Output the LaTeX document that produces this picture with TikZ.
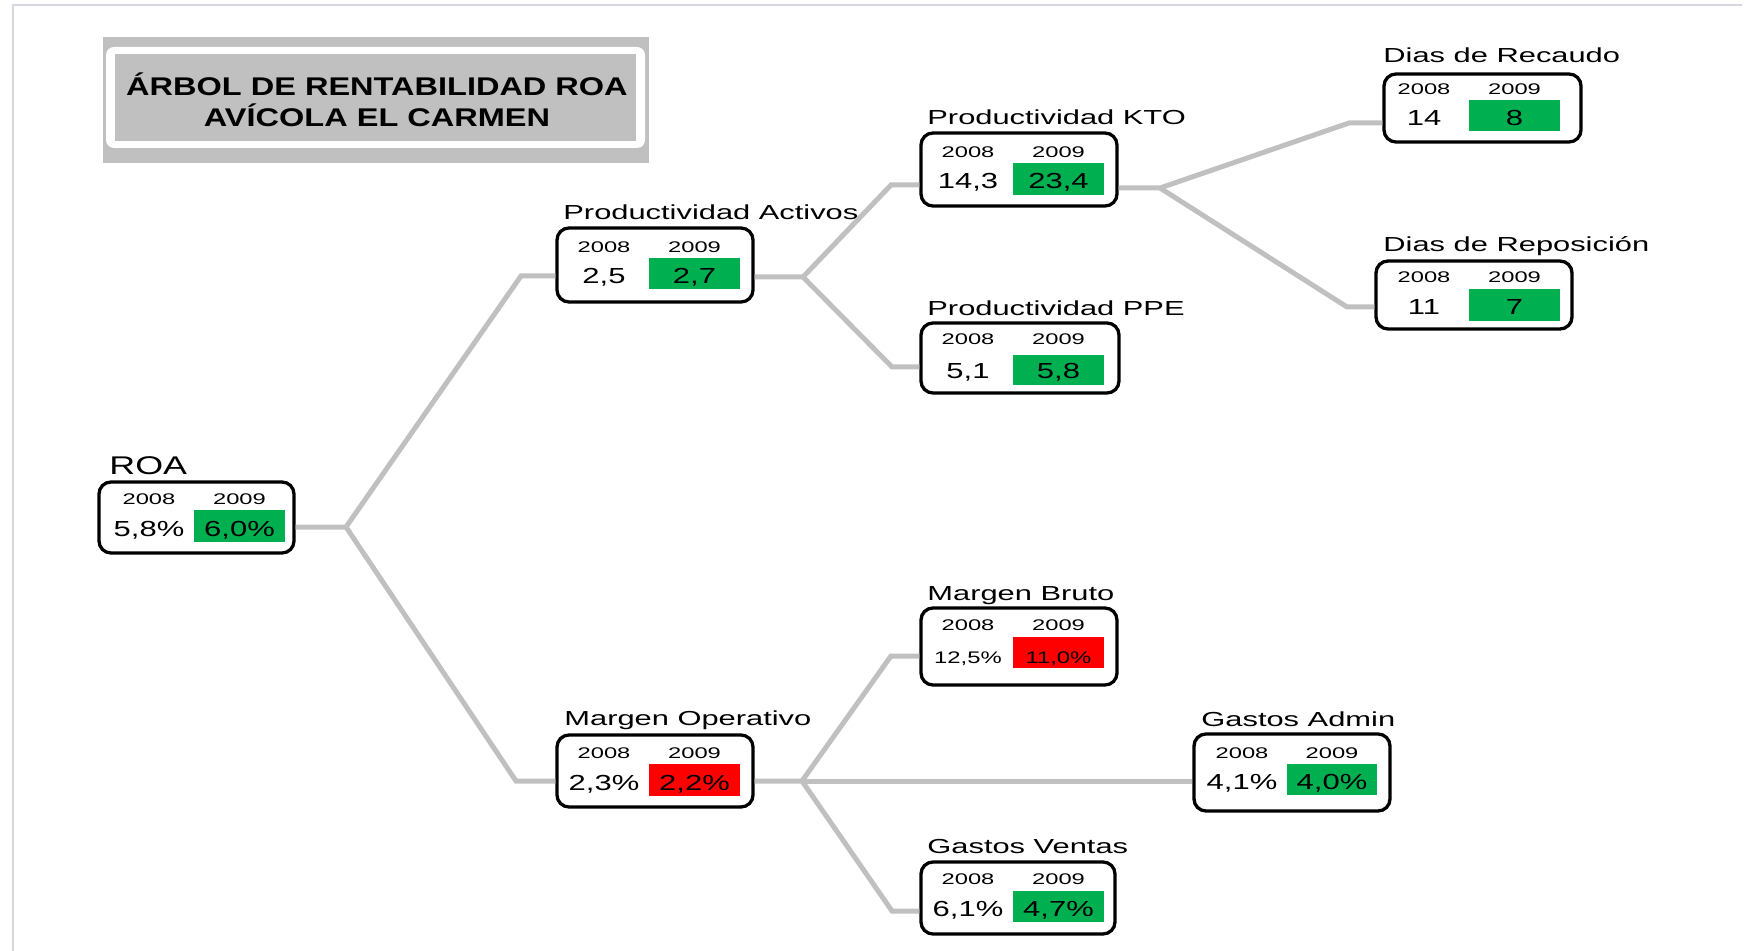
\documentclass[tikz,border=0pt]{standalone}
\usepackage{fontspec}
\setmainfont{Liberation Sans}
% Stretched Arial-metric faces used for the different text roles
\newfontfamily\titlefont{Liberation Sans}[FakeStretch=1.27]
\newfontfamily\roafont{Liberation Sans}[FakeStretch=1.40]
\newfontfamily\lblfont{Liberation Sans}[FakeStretch=1.52]
\newfontfamily\yrfont{Liberation Sans}[FakeStretch=1.54]
\newfontfamily\valfont{Liberation Sans}[FakeStretch=1.42]

\definecolor{conn}{RGB}{192,192,192}
\definecolor{okgreen}{RGB}{0,176,80}
\definecolor{badred}{RGB}{255,0,0}
\definecolor{titlegray}{RGB}{192,192,192}
\definecolor{framegray}{RGB}{214,214,222}

% KPI box: name, left, top, right, bottom
\newcommand\kbox[5]{\node[kbox, minimum width={(#4-(#2))*0.5pt}, minimum height={(#5-(#3))*0.5pt}] (#1) at ({(#2+#4)/2},{(#3+#5)/2}) {};}
% coloured 2009 cell: name, left, top, right, bottom, colour
\newcommand\kcell[6]{\node[cell, fill=#6, minimum width={(#4-(#2))*0.5pt}, minimum height={(#5-(#3))*0.5pt}] (#1) at ({(#2+#4)/2},{(#3+#5)/2}) {};}

\begin{document}
\begin{tikzpicture}[x=0.5pt,y=-0.5pt,
  kbox/.style={rectangle, draw=black, line width=1.65pt, rounded corners=6pt, fill=white, inner sep=0pt},
  cell/.style={rectangle, inner sep=0pt, draw=none},
  link/.style={draw=conn, line width=2.5pt},
  lbl/.style={anchor=base west, inner sep=0pt, font=\lblfont\fontsize{10.15pt}{12pt}\selectfont},
  yr/.style={anchor=base, inner sep=0pt, font=\yrfont\fontsize{7.7pt}{9pt}\selectfont},
  val/.style={anchor=base, inner sep=0pt, font=\valfont\fontsize{10.9pt}{13pt}\selectfont},
  valsm/.style={anchor=base, inner sep=0pt, font=\valfont\fontsize{8.4pt}{10pt}\selectfont},
  ttl/.style={anchor=base, inner sep=0pt, font=\titlefont\bfseries\fontsize{12.8pt}{15pt}\selectfont},
]
\useasboundingbox (0,0) rectangle (1749,951);

% page frame
\draw[framegray, line width=0.75pt] (13,951) -- (13,5) -- (1742,5);

% title panel
\fill[titlegray] (103,37) rectangle (649,163);
\fill[white, rounded corners=4pt] (106,47) rectangle (645,148);
\fill[titlegray] (115,54) rectangle (636,141);
\node[ttl] (title1) at (377,96) {ÁRBOL DE RENTABILIDAD ROA};
\node[ttl] (title2) at (377,127) {AVÍCOLA EL CARMEN};

% ---- ROA
\kbox{roa}{99}{482}{294}{553}
\kcell{roac}{194}{510}{285}{542}{okgreen}
\node[anchor=base west, inner sep=0pt, font=\roafont\fontsize{12.8pt}{15pt}\selectfont] (roal) at (109,474) {ROA};
\node[yr] (roay1) at (149,504) {2008};
\node[yr] (roay2) at (239.5,504) {2009};
\node[val] (roav1) at (149,536) {5,8\%};
\node[val] (roav2) at (239.5,536) {6,0\%};

% ---- Productividad Activos
\kbox{pa}{557}{228}{753}{302}
\kcell{pac}{649}{258}{740}{289}{okgreen}
\node[lbl] (pal) at (563,220) {Productividad Activos};
\node[yr] (pay1) at (604,253) {2008};
\node[yr] (pay2) at (694.5,253) {2009};
\node[val] (pav1) at (604,283.5) {2,5};
\node[val] (pav2) at (694.5,283.5) {2,7};

% ---- Productividad KTO
\kbox{kto}{921}{133}{1117}{206}
\kcell{ktoc}{1013}{163}{1104}{195}{okgreen}
\node[lbl] (ktol) at (927,125) {Productividad KTO};
\node[yr] (ktoy1) at (968,157.5) {2008};
\node[yr] (ktoy2) at (1058.5,157.5) {2009};
\node[val] (ktov1) at (968,189) {14,3};
\node[val] (ktov2) at (1058.5,189) {23,4};

% ---- Productividad PPE
\kbox{ppe}{921}{323}{1119}{393}
\kcell{ppec}{1013}{355}{1104}{385}{okgreen}
\node[lbl] (ppel) at (927,316) {Productividad PPE};
\node[yr] (ppey1) at (968,345) {2008};
\node[yr] (ppey2) at (1058.5,345) {2009};
\node[val] (ppev1) at (968,378.5) {5,1};
\node[val] (ppev2) at (1058.5,378.5) {5,8};

% ---- Dias de Recaudo
\kbox{rec}{1384}{74}{1581}{142}
\kcell{recc}{1469}{100}{1560}{131}{okgreen}
\node[lbl] (recl) at (1383,63) {Dias de Recaudo};
\node[yr] (recy1) at (1424,94.5) {2008};
\node[yr] (recy2) at (1514.5,94.5) {2009};
\node[val] (recv1) at (1424,125.5) {14};
\node[val] (recv2) at (1514.5,125.5) {8};

% ---- Dias de Reposición
\kbox{rep}{1376}{261}{1572}{329}
\kcell{repc}{1469}{289}{1560}{321}{okgreen}
\node[lbl] (repl) at (1383,252) {Dias de Reposición};
\node[yr] (repy1) at (1424,282.5) {2008};
\node[yr] (repy2) at (1514.5,282.5) {2009};
\node[val] (repv1) at (1424,315) {11};
\node[val] (repv2) at (1514.5,315) {7};

% ---- Margen Operativo
\kbox{mo}{557}{735}{753}{807}
\kcell{moc}{649}{764}{740}{796}{badred}
\node[lbl] (mol) at (564,725) {Margen Operativo};
\node[yr] (moy1) at (604,758) {2008};
\node[yr] (moy2) at (694.5,758) {2009};
\node[val] (mov1) at (604,790) {2,3\%};
\node[val] (mov2) at (694.5,790) {2,2\%};

% ---- Margen Bruto
\kbox{mb}{921}{608}{1117}{685}
\kcell{mbc}{1013}{637}{1104}{668}{badred}
\node[lbl] (mbl) at (927,600) {Margen Bruto};
\node[yr] (mby1) at (968,630.5) {2008};
\node[yr] (mby2) at (1058.5,630.5) {2009};
\node[valsm] (mbv1) at (968,663) {12,5\%};
\node[valsm] (mbv2) at (1058.5,663) {11,0\%};

% ---- Gastos Admin
\kbox{ga}{1194}{734}{1390}{811}
\kcell{gac}{1287}{764}{1377}{795}{okgreen}
\node[lbl] (gal) at (1201,726) {Gastos Admin};
\node[yr] (gay1) at (1242,758) {2008};
\node[yr] (gay2) at (1332,758) {2009};
\node[val] (gav1) at (1242,789.5) {4,1\%};
\node[val] (gav2) at (1332,789.5) {4,0\%};

% ---- Gastos Ventas
\kbox{gv}{921}{862}{1115}{934}
\kcell{gvc}{1013}{891}{1104}{922}{okgreen}
\node[lbl] (gvl) at (927,853) {Gastos Ventas};
\node[yr] (gvy1) at (968,884.5) {2008};
\node[yr] (gvy2) at (1058.5,884.5) {2009};
\node[val] (gvv1) at (968,916.5) {6,1\%};
\node[val] (gvv2) at (1058.5,916.5) {4,7\%};

% ---- connectors: junctions and elbows
\coordinate (j1) at (346,527);
\coordinate (e1a) at (521,276);
\coordinate (e1b) at (516,781);
\coordinate (j2) at (803,277);
\coordinate (e2a) at (891,185);
\coordinate (e2b) at (892,367);
\coordinate (j3) at (1160,188);
\coordinate (e3a) at (1349,123);
\coordinate (e3b) at (1347,307);
\coordinate (j4) at (802,781);
\coordinate (e4a) at (891,656);
\coordinate (e4b) at (892,911);

\draw[link] (j1 -| roa.east) -- (j1) -- (e1a) -- (e1a -| pa.west);
\draw[link] (j1) -- (e1b) -- (e1b -| mo.west);

\draw[link] (j2 -| pa.east) -- (j2) -- (e2a) -- (e2a -| kto.west);
\draw[link] (j2) -- (e2b) -- (e2b -| ppe.west);

\draw[link] (j3 -| kto.east) -- (j3) -- (e3a) -- (e3a -| rec.west);
\draw[link] (j3) -- (e3b) -- (e3b -| rep.west);

\draw[link] (j4 -| mo.east) -- (j4) -- (e4a) -- (e4a -| mb.west);
\draw[link] (j4) -- (j4 -| ga.west);
\draw[link] (j4) -- (e4b) -- (e4b -| gv.west);
\end{tikzpicture}
\end{document}
